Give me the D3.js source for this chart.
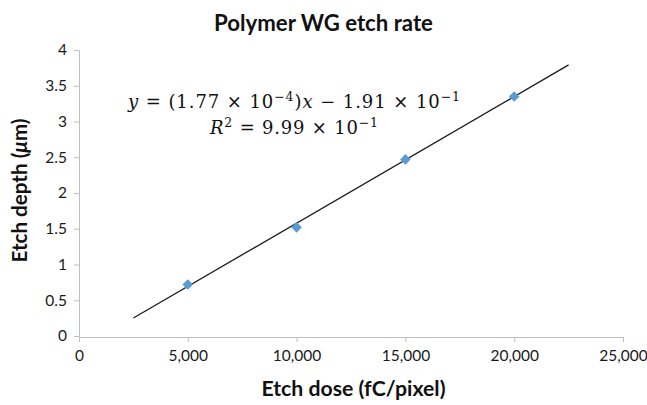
<!DOCTYPE html>
<html><head><meta charset="utf-8">
<script src="https://cdn.jsdelivr.net/npm/d3@7"></script>
<style>
html,body{margin:0;padding:0;background:#fff;}
svg{display:block;font-family:Lato, "Open Sans", sans-serif;}
</style></head>
<body>
<svg id="chart" width="647" height="405"></svg>
<script>
const doses = [5000, 10000, 15000, 20000];
const depths = [0.72, 1.52, 2.47, 3.35];
const xTicks = [0, 5000, 10000, 15000, 20000, 25000];
const yTicks = [0, 0.5, 1, 1.5, 2, 2.5, 3, 3.5, 4];
const trendX = [2500, 22500];
const slope = 1.77e-4, intercept = -0.191;
const titleText = "Polymer WG etch rate";
const xTitle = "Etch dose (fC/pixel)";
const yTitleParts = ["Etch depth (", "μ", "m)"];

const W = 647, H = 405;
const m = {left: 79, right: 24, top: 50, bottom: 69};
const svg = d3.select("#chart");
const x = d3.scaleLinear().domain([0, 25000]).range([m.left, W - m.right]);
const y = d3.scaleLinear().domain([0, 4]).range([H - m.bottom, m.top]);

const axisColor = "#bfbfbf";
const fmt = d3.format(",");

// fit a text's font size so that its rendered width equals the target width
function fit(sel, target) {
  const fs = parseFloat(sel.style("font-size"));
  const w = sel.node().getComputedTextLength();
  sel.style("font-size", (fs * target / w).toFixed(2) + "px");
  return sel;
}

const gx = svg.append("g").attr("transform", `translate(0,${H - m.bottom + 1})`)
  .call(d3.axisBottom(x).tickValues(xTicks).tickFormat(fmt).tickSize(5).tickPadding(8));
const gy = svg.append("g").attr("transform", `translate(${m.left},0)`)
  .call(d3.axisLeft(y).tickValues(yTicks).tickFormat(d => d).tickSize(5).tickPadding(7));
[gx, gy].forEach(g => {
  g.select(".domain").attr("stroke", axisColor);
  g.selectAll(".tick line").attr("stroke", axisColor);
  g.selectAll(".tick text").attr("fill", "#1a1a1a").style("font-size", "15.5px").style("font-family", "Lato, sans-serif");
});

// trendline
svg.append("line")
  .attr("x1", x(trendX[0])).attr("y1", y(slope * trendX[0] + intercept))
  .attr("x2", x(trendX[1])).attr("y2", y(slope * trendX[1] + intercept))
  .attr("stroke", "#1a1a1a").attr("stroke-width", 1.3);

// points
const sym = d3.symbol().type(d3.symbolDiamond2).size(72);
svg.selectAll("path.pt").data(doses).join("path")
  .attr("class", "pt")
  .attr("transform", (d, i) => `translate(${x(d)},${y(depths[i])})`)
  .attr("d", sym)
  .attr("fill", "#5b9bd5");

// titles
const t = svg.append("text").attr("x", 323.5).attr("y", 31).attr("text-anchor", "middle")
  .style("font-size", "20px").style("font-weight", "bold").attr("fill", "#111").text(titleText);
fit(t, 219);
const tx = svg.append("text").attr("x", 353.5).attr("y", 396).attr("text-anchor", "middle")
  .style("font-size", "18px").style("font-weight", "bold").attr("fill", "#111").text(xTitle);
fit(tx, 184);
const ty = svg.append("text").attr("transform", `translate(27,190.5) rotate(-90)`)
  .attr("text-anchor", "middle")
  .style("font-size", "18px").style("font-weight", "bold").attr("fill", "#111");
ty.append("tspan").text(yTitleParts[0]);
ty.append("tspan").style("font-style", "italic").text(yTitleParts[1]);
ty.append("tspan").text(yTitleParts[2]);
fit(ty, 144);

// equation
const eqFont = "'DejaVu Serif', 'Liberation Serif', serif";
const eq1 = svg.append("text").attr("x", 294).attr("y", 108).attr("text-anchor", "middle")
  .style("font-family", eqFont).style("font-size", "18px").attr("fill", "#111");
eq1.append("tspan").style("font-style", "italic").text("y");
eq1.append("tspan").text(" = (1.77 × 10");
eq1.append("tspan").attr("dy", -7.5).style("font-size", "12.5px").text("−4");
eq1.append("tspan").attr("dy", 7.5).text(")");
eq1.append("tspan").style("font-style", "italic").text("x");
eq1.append("tspan").text(" − 1.91 × 10");
eq1.append("tspan").attr("dy", -7.5).style("font-size", "12.5px").text("−1");
eq1.attr("textLength", 332).attr("lengthAdjust", "spacing");
const eq2 = svg.append("text").attr("x", 294).attr("y", 134).attr("text-anchor", "middle")
  .style("font-family", eqFont).style("font-size", "18px").attr("fill", "#111");
eq2.append("tspan").style("font-style", "italic").text("R");
eq2.append("tspan").attr("dy", -7.5).style("font-size", "12.5px").text("2");
eq2.append("tspan").attr("dy", 7.5).text(" = 9.99 × 10");
eq2.append("tspan").attr("dy", -7.5).style("font-size", "12.5px").text("−1");
eq2.attr("textLength", 168).attr("lengthAdjust", "spacing");
</script>
</body></html>
